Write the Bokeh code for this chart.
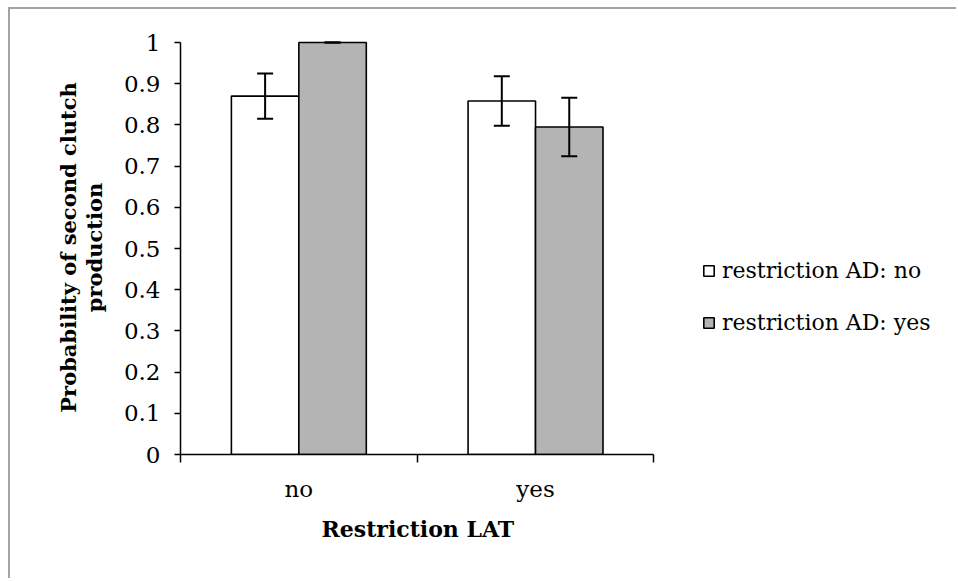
from bokeh.plotting import figure
from bokeh.models import (ColumnDataSource, Whisker, TeeHead, FixedTicker,
                          Legend, LegendItem, Range1d, Title)
from bokeh.embed import file_html
from bokeh.resources import INLINE

# ---- data ----
GROUPS = ["no", "yes"]                      # Restriction LAT
SERIES = ["restriction AD: no", "restriction AD: yes"]
VALUES_AD_NO = [0.870, 0.858]
VALUES_AD_YES = [1.000, 0.795]
ERR_AD_NO = [0.055, 0.060]
ERR_AD_YES = [0.000, 0.071]
Y_TICKS = [0, 0.1, 0.2, 0.3, 0.4, 0.5, 0.6, 0.7, 0.8, 0.9, 1]
Y_TICK_LABELS = ["0", "0.1", "0.2", "0.3", "0.4", "0.5", "0.6", "0.7", "0.8", "0.9", "1"]
X_TITLE = "Restriction LAT"
Y_TITLE = "Probability of second clutch\nproduction"

# ---- layout constants ----
BAR_W = 0.285
OFFSETS = [-BAR_W / 2, BAR_W / 2]
COLORS = ["#ffffff", "#b4b4b4"]
FONT = "DejaVu Serif"
X_EXTRA = 1.211   # empty room right of the categories, holds the legend

p = figure(width=948, height=571, output_backend="svg", toolbar_location=None,
           x_range=Range1d(0, len(GROUPS) + X_EXTRA), y_range=Range1d(0, 1.005),
           min_border_left=170, min_border_right=18,
           min_border_top=31, min_border_bottom=126)
p.styles = {"margin-left": "8px", "margin-top": "7px",
            "border-top": "2px solid #a3a3a3", "border-left": "2px solid #a3a3a3"}

renderers = []
for vals, errs, off, col in [(VALUES_AD_NO, ERR_AD_NO, OFFSETS[0], COLORS[0]),
                             (VALUES_AD_YES, ERR_AD_YES, OFFSETS[1], COLORS[1])]:
    xs = [i + 0.5 + off for i in range(len(GROUPS))]
    src = ColumnDataSource(dict(x=xs, top=vals,
                                upper=[v + e for v, e in zip(vals, errs)],
                                lower=[v - e for v, e in zip(vals, errs)]))
    r = p.vbar(x="x", top="top", bottom=0, width=BAR_W, source=src,
               fill_color=col, line_color="black", line_width=1.6)
    renderers.append(r)
    w = Whisker(source=src, base="x", upper="upper", lower="lower",
                line_color="black", line_width=2, level="overlay",
                upper_head=TeeHead(size=16, line_width=2, line_color="black"),
                lower_head=TeeHead(size=16, line_width=2, line_color="black"))
    p.add_layout(w)

legend = Legend(items=[LegendItem(label=SERIES[0], renderers=[renderers[0]]),
                       LegendItem(label=SERIES[1], renderers=[renderers[1]])],
                location=(522, 119))
legend.background_fill_alpha = 0
legend.border_line_alpha = 0
legend.padding = 0
legend.margin = 0
legend.spacing = 27
legend.glyph_width = 13
legend.glyph_height = 13
legend.label_standoff = 7
legend.label_text_font = FONT
legend.label_text_font_size = "22px"
legend.label_text_color = "black"
p.add_layout(legend)

p.xgrid.visible = False
p.ygrid.visible = False
p.outline_line_color = None
p.background_fill_color = "white"
p.border_fill_color = "white"

# y axis
ya = p.yaxis[0]
ya.ticker = FixedTicker(ticks=Y_TICKS)
ya.major_label_overrides = {t: l for t, l in zip(Y_TICKS, Y_TICK_LABELS)}
ya.bounds = (0, 1)
ya.minor_tick_line_color = None
ya.major_tick_in = 0
ya.major_tick_out = 6
ya.major_tick_line_width = 1.5
ya.major_tick_line_color = "black"
ya.axis_line_width = 1.5
ya.axis_line_color = "black"
ya.major_label_standoff = 14
ya.major_label_text_font = FONT
ya.major_label_text_font_size = "23px"
ya.major_label_text_color = "black"
ya.axis_label = Y_TITLE
ya.axis_label_text_font = FONT
ya.axis_label_text_font_style = "bold"
ya.axis_label_text_font_size = "21px"
ya.axis_label_text_line_height = 1.05
ya.axis_label_text_color = "black"
ya.axis_label_standoff = 14

# x axis
xa = p.xaxis[0]
xa.ticker = FixedTicker(ticks=[i + 0.5 for i in range(len(GROUPS))],
                        minor_ticks=list(range(len(GROUPS) + 1)))
xa.major_label_overrides = {i + 0.5: g for i, g in enumerate(GROUPS)}
xa.bounds = (0, len(GROUPS))
xa.major_tick_line_color = None
xa.minor_tick_in = 0
xa.minor_tick_out = 8
xa.minor_tick_line_width = 1.5
xa.minor_tick_line_color = "black"
xa.axis_line_width = 1.5
xa.axis_line_color = "black"
xa.major_label_standoff = 13
xa.major_label_text_font = FONT
xa.major_label_text_font_size = "23px"
xa.major_label_text_color = "black"

# x axis title, centred under the two categories (not under the legend room)
xt = Title(text=X_TITLE, align="left", offset=141, standoff=18,
           text_font=FONT, text_font_style="bold", text_font_size="22px",
           text_color="black")
p.add_layout(xt, "below")

open("out.html", "w").write(file_html(p, INLINE))
